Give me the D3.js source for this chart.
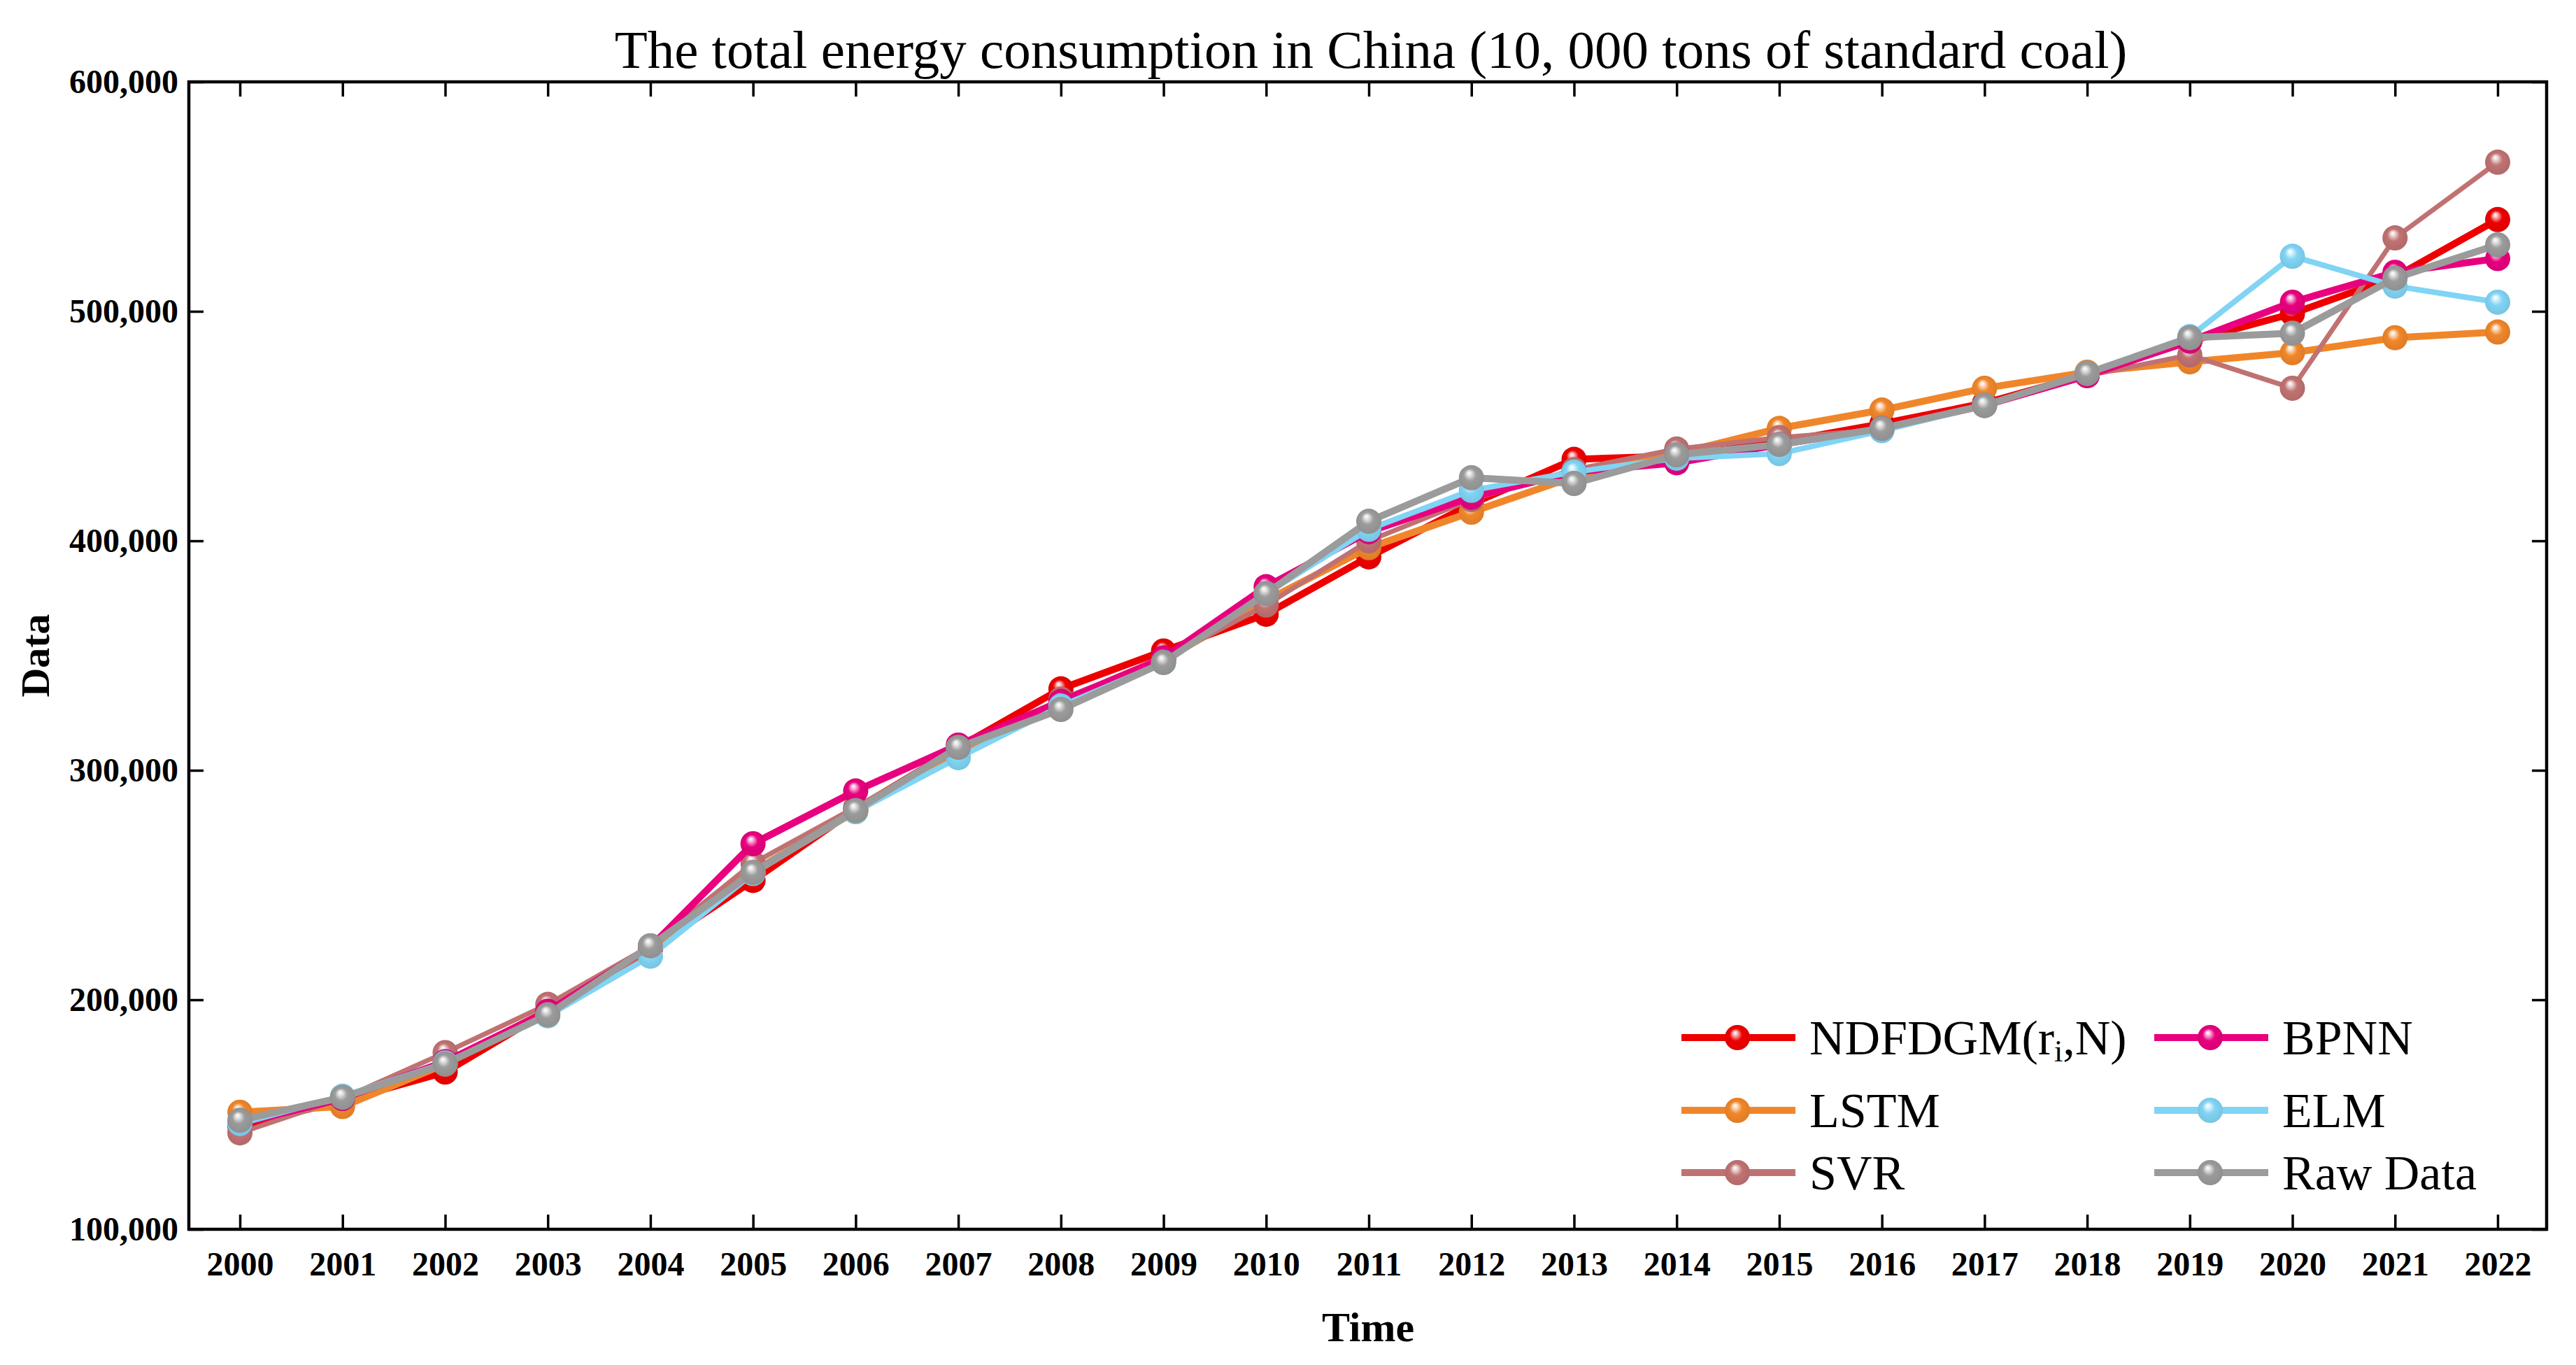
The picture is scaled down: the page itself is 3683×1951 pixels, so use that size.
<!DOCTYPE html>
<html>
<head>
<meta charset="utf-8">
<style>
    body { margin: 0; background: #fff; }
    svg { display: block; font-family: "Liberation Serif", "Times New Roman", serif; }
    .tick text { font-family: "Liberation Serif", "Times New Roman", serif; font-weight: bold; font-size: 48px; fill: #000; }
    .tick line { stroke: #000; stroke-width: 3.5; }
</style>
</head>
<body>
<svg id="chart" width="3683" height="1951"></svg>

<script src="https://cdn.jsdelivr.net/npm/d3@7/dist/d3.min.js"></script>
<script>
    // values (10,000 tons of standard coal)
    const years = [2000, 2001, 2002, 2003, 2004, 2005, 2006, 2007, 2008, 2009, 2010, 2011,
        2012, 2013, 2014, 2015, 2016, 2017, 2018, 2019, 2020, 2021, 2022];

    const ndfdgm = [145000, 156000, 168500, 195000, 222000, 252000, 283000, 310000, 335500, 352000, 368000, 393000,
        416000, 435500, 437000, 443000, 451000, 460000, 472500, 487000, 499000, 515000, 540000];
    const lstm = [151000, 153500, 172000, 195500, 222500, 256000, 282000, 308000, 329000, 348000, 374000, 397000,
        412500, 428000, 438000, 449000, 457000, 466500, 473500, 478000, 482000, 488500, 491000];
    const svr = [142000, 157000, 177000, 198000, 223500, 259500, 284000, 309000, 331000, 348500, 372000, 400000,
        418000, 431000, 440000, 445000, 448500, 459000, 472000, 481000, 466500, 532000, 565000];
    const bpnn = [146000, 157000, 173000, 195000, 223000, 268000, 291000, 311000, 330000, 349000, 380000, 404000,
        419000, 430000, 434000, 442000, 449000, 459000, 472000, 487000, 504000, 517000, 523000];
    const elm = [146000, 158000, 172500, 193000, 219000, 255000, 282000, 305500, 328000, 347000, 377000, 405000,
        422000, 430000, 436000, 438000, 448000, 459000, 473000, 489000, 524000, 511000, 504000];
    const raw = [147500, 157500, 172000, 193500, 223500, 255500, 282500, 310000, 326500, 347000, 377000, 408500,
        427500, 425000, 437500, 442000, 449000, 459000, 473000, 488500, 490500, 514500, 529000];

    const yTicks = [100000, 200000, 300000, 400000, 500000, 600000];

    const seriesNames = ["NDFDGM", "LSTM", "SVR", "BPNN", "ELM", "Raw Data"];
    const seriesValues = [ndfdgm, lstm, svr, bpnn, elm, raw];
    const seriesColors = ["#ee0000", "#f0862a", "#c07272", "#e8007e", "#80d4f4", "#9b9b9b"];
    const seriesWidths = [10, 10, 7, 10, 8, 10];

    const plotLeft = 270, plotRight = 3641, plotTop = 117, plotBottom = 1757;

    const svg = d3.select("#chart");

    // the first and last years sit a bit inside the frame
    const x = d3.scaleLinear()
        .domain([2000 - (343 - plotLeft) / 146.7, 2022 + (plotRight - 3571) / 146.7])
        .range([plotLeft, plotRight]);
    const y = d3.scaleLinear().domain([100000, 600000]).range([plotBottom, plotTop]);

    // title
    svg.append("text")
        .attr("x", 1960).attr("y", 97)
        .attr("text-anchor", "middle")
        .style("font-size", "77px")
        .text("The total energy consumption in China (10, 000 tons of standard coal)");

    // axes
    svg.append("g")
        .attr("transform", `translate(0,${plotBottom})`)
        .call(d3.axisBottom(x).tickValues(years).tickFormat(d3.format("d"))
            .tickSizeInner(-21).tickSizeOuter(0).tickPadding(32))
        .call(g => g.select(".domain").remove());

    svg.append("g")
        .attr("transform", `translate(0,${plotTop})`)
        .call(d3.axisTop(x).tickValues(years).tickFormat("")
            .tickSizeInner(-21).tickSizeOuter(0))
        .call(g => g.select(".domain").remove());

    svg.append("g")
        .attr("transform", `translate(${plotLeft},0)`)
        .call(d3.axisLeft(y).tickValues(yTicks).tickFormat(d3.format(","))
            .tickSizeInner(-21).tickSizeOuter(0).tickPadding(15))
        .call(g => g.select(".domain").remove());

    svg.append("g")
        .attr("transform", `translate(${plotRight},0)`)
        .call(d3.axisRight(y).tickValues(yTicks).tickFormat("")
            .tickSizeInner(-21).tickSizeOuter(0))
        .call(g => g.select(".domain").remove());

    svg.append("rect")
        .attr("x", plotLeft).attr("y", plotTop)
        .attr("width", plotRight - plotLeft).attr("height", plotBottom - plotTop)
        .style("fill", "none").style("stroke", "#000").style("stroke-width", 4.5);

    // axis titles
    svg.append("text")
        .attr("x", 1956).attr("y", 1917)
        .attr("text-anchor", "middle")
        .style("font-size", "60px").style("font-weight", "bold")
        .text("Time");

    svg.append("text")
        .attr("transform", "translate(70,937) rotate(-90)")
        .attr("text-anchor", "middle")
        .style("font-size", "58px").style("font-weight", "bold")
        .text("Data");

    // shaded ball markers
    const defs = svg.append("defs");
    seriesColors.forEach((c, i) => {
        const g = defs.append("radialGradient")
            .attr("id", "ball" + i)
            .attr("cx", "50%").attr("cy", "50%").attr("r", "55%")
            .attr("fx", "40%").attr("fy", "30%");
        g.append("stop").attr("offset", "0%").attr("stop-color", "#ffffff");
        g.append("stop").attr("offset", "15%").attr("stop-color", d3.interpolateRgb(c, "#fff")(0.75));
        g.append("stop").attr("offset", "45%").attr("stop-color", c);
        g.append("stop").attr("offset", "100%").attr("stop-color", d3.color(c).darker(0.25));
    });

    const line = d3.line()
        .x((d, i) => x(years[i]))
        .y(d => y(d));

    seriesValues.forEach((vals, i) => {
        const g = svg.append("g").attr("class", "series");
        g.append("path")
            .attr("d", line(vals))
            .style("fill", "none")
            .style("stroke", seriesColors[i])
            .style("stroke-width", seriesWidths[i])
            .style("stroke-linejoin", "round");
        g.selectAll("circle")
            .data(vals)
            .join("circle")
            .attr("cx", (d, j) => x(years[j]))
            .attr("cy", d => y(d))
            .attr("r", 18)
            .style("fill", `url(#ball${i})`);
    });

    // legend, two columns of three
    const colX = [2404, 3080];
    const rowY = [1483, 1587, 1676];
    const legend = svg.append("g");
    seriesNames.forEach((name, i) => {
        const lx = colX[Math.floor(i / 3)];
        const ly = rowY[i % 3];
        const item = legend.append("g");
        item.append("line")
            .attr("x1", lx).attr("x2", lx + 163)
            .attr("y1", ly).attr("y2", ly)
            .style("stroke", seriesColors[i]).style("stroke-width", 10);
        item.append("circle")
            .attr("cx", lx + 80).attr("cy", ly).attr("r", 18)
            .style("fill", `url(#ball${i})`);
        const t = item.append("text")
            .attr("x", lx + 183).attr("y", ly + 24)
            .style("font-size", "70px");
        if (name === "NDFDGM") {
            t.append("tspan").text("NDFDGM(r");
            t.append("tspan").attr("baseline-shift", "-22%").style("font-size", "44px").text("i");
            t.append("tspan").text(",N)");
        } else {
            t.text(name);
        }
    });
</script>
</body>
</html>
